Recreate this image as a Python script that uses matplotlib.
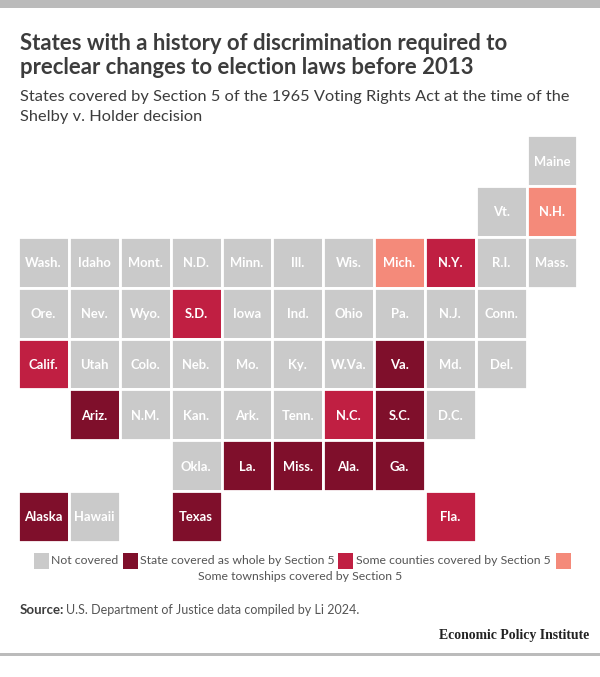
import matplotlib
matplotlib.use("Agg")
import matplotlib.pyplot as plt
from matplotlib.patches import Rectangle

W, H = 600, 677

# tile grid, one row of the map per list; None = empty cell
row0 = [None] * 10 + ["Maine"]
row1 = [None] * 9 + ["Vt.", "N.H."]
row2 = ["Wash.", "Idaho", "Mont.", "N.D.", "Minn.", "Ill.", "Wis.", "Mich.", "N.Y.", "R.I.", "Mass."]
row3 = ["Ore.", "Nev.", "Wyo.", "S.D.", "Iowa", "Ind.", "Ohio", "Pa.", "N.J.", "Conn."]
row4 = ["Calif.", "Utah", "Colo.", "Neb.", "Mo.", "Ky.", "W.Va.", "Va.", "Md.", "Del."]
row5 = [None, "Ariz.", "N.M.", "Kan.", "Ark.", "Tenn.", "N.C.", "S.C.", "D.C."]
row6 = [None, None, None, "Okla.", "La.", "Miss.", "Ala.", "Ga."]
row7 = ["Alaska", "Hawaii", None, "Texas", None, None, None, None, "Fla."]
rows = [row0, row1, row2, row3, row4, row5, row6, row7]

whole = ["Ariz.", "Va.", "S.C.", "La.", "Miss.", "Ala.", "Ga.", "Alaska", "Texas"]
counties = ["N.Y.", "S.D.", "Calif.", "N.C.", "Fla."]
townships = ["N.H.", "Mich."]

GRAY = "#CACACA"
DARK = "#7F0F2B"
RED = "#C01F42"
SALMON = "#F48A7A"
TEXT = "#3C3C3C"
BAR = "#BBBBBB"

legend_labels = ["Not covered", "State covered as whole by Section 5",
                 "Some counties covered by Section 5", "Some townships covered by Section 5"]


def tile_color(name):
    if name in whole:
        return DARK
    if name in counties:
        return RED
    if name in townships:
        return SALMON
    return GRAY


def px(x, y):
    return x / W, 1 - y / H


plt.rcParams["font.family"] = ["Lato", "DejaVu Sans"]
fig = plt.figure(figsize=(W / 100, H / 100), dpi=100)

# tile map
pitch = 50.85
ax = fig.add_axes([18.1 / W, 1 - 541.9 / H, 11 * pitch / W, 8 * pitch / H])
ax.set_xlim(0, 11)
ax.set_ylim(8, 0)
ax.axis("off")
for r, row in enumerate(rows):
    for c, name in enumerate(row):
        if name is None:
            continue
        color = tile_color(name)
        ax.add_patch(Rectangle((c, r), 1, 1, facecolor=color, edgecolor="white", linewidth=2.0))
        ax.text(c + 0.5, r + 0.52, name, color="white", ha="center", va="center",
                fontsize=9.4, fontweight="bold")

# top and bottom rules
fig.add_artist(Rectangle(px(0, 7.5), 1, 7.5 / H, transform=fig.transFigure, facecolor=BAR, edgecolor="none"))
fig.add_artist(Rectangle(px(0, 656), 1, 3 / H, transform=fig.transFigure, facecolor=BAR, edgecolor="none"))

# headings
for y, line in zip([43, 67], ["States with a history of discrimination required to",
                              "preclear changes to election laws before 2013"]):
    fig.text(*px(20, y), line, fontsize=15.95, fontweight="bold", color=TEXT, va="center")
for y, line in zip([97, 117], ["States covered by Section 5 of the 1965 Voting Rights Act at the time of the",
                               "Shelby v. Holder decision"]):
    fig.text(*px(20, y), line, fontsize=11.75, color=TEXT, va="center")

# legend
for x, color in zip([33.5, 122.5, 338, 556], [GRAY, DARK, RED, SALMON]):
    fig.add_artist(Rectangle(px(x, 569), 15 / W, 16 / H, transform=fig.transFigure,
                             facecolor=color, edgecolor="none"))
for x, label in zip([51, 140, 356], legend_labels):
    fig.text(*px(x, 560.5), label, fontsize=8.85, color="#555555", va="center")
fig.text(*px(300, 576.5), legend_labels[3], fontsize=8.85, color="#555555", va="center", ha="center")

# source and credit
fig.text(*px(20, 610.5), "Source:", fontsize=9.5, fontweight="bold", color=TEXT, va="center")
fig.text(*px(66, 610.5), "U.S. Department of Justice data compiled by Li 2024.", fontsize=9.0,
         color="#555555", va="center")
fig.text(*px(589, 635.5), "Economic Policy Institute", fontsize=9.9, fontweight="bold",
         family="Liberation Serif", color="#222222", va="center", ha="right")

fig.savefig("out.png", dpi=100)
plt.close(fig)
